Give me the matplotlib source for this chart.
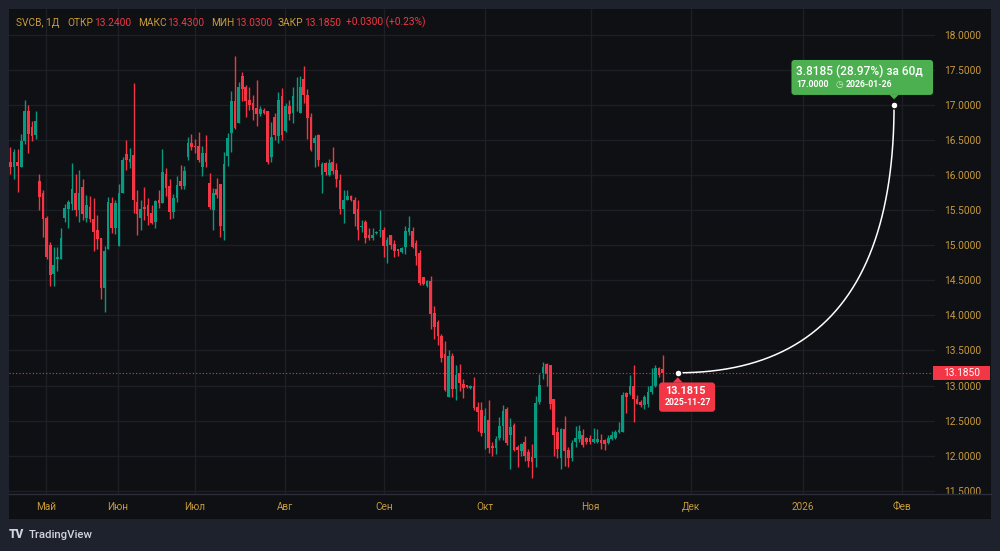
import numpy as np
import matplotlib
matplotlib.use("Agg")
import matplotlib.pyplot as plt
import matplotlib.transforms as mtransforms
from matplotlib.patches import FancyBboxPatch, Rectangle, Polygon
from matplotlib.lines import Line2D

# ---------------- data ----------------
opens = [16.18, 16.12, 16.19, 16.12, 16.49, 16.91, 16.68, 16.57, 15.92, 15.74,
         15.39, 15.00, 14.59, 14.81, 14.81, 15.39, 15.52, 15.59, 15.74, 15.50,
         15.83, 15.39, 15.55, 15.37, 15.21, 15.10, 14.39, 14.94, 15.60, 15.24,
         14.99, 15.75, 16.30, 16.18, 16.29, 15.61, 15.39, 15.55, 15.57, 15.46,
         15.33, 15.64, 15.60, 16.01, 15.84, 15.48, 15.67, 15.91, 15.85, 16.26,
         16.45, 16.41, 16.41, 16.12, 16.31, 15.89, 15.50, 15.80, 15.87, 15.20,
         16.27, 16.60, 17.06, 16.74, 17.41, 17.26, 17.07, 17.02, 16.95, 16.87,
         16.93, 16.91, 16.26, 16.82, 16.56, 17.13, 16.63, 16.99, 16.88, 17.12,
         16.89, 17.37, 17.14, 16.83, 16.46, 16.57, 16.00, 16.17, 16.00, 16.19,
         16.07, 15.93, 15.51, 15.65, 15.70, 15.65, 15.51, 15.26, 15.33, 15.14,
         15.10, 15.17, 15.20, 15.22, 14.99, 15.14, 15.01, 14.94, 14.90, 14.97,
         15.19, 15.20, 15.03, 14.89, 14.54, 14.42, 14.49, 14.03, 13.91, 13.71,
         13.45, 12.83, 13.42, 12.95, 13.18, 13.02, 13.01, 12.96, 13.00, 12.70,
         12.65, 12.32, 12.51, 12.14, 12.11, 12.25, 12.42, 12.67, 12.29, 12.44,
         12.12, 12.06, 12.19, 12.05, 11.98, 11.96, 12.76, 13.18, 13.30, 13.29,
         12.81, 12.34, 11.96, 12.38, 12.08, 11.96, 12.19, 12.24, 12.29, 12.25,
         12.25, 12.19, 12.20, 12.22, 12.23, 12.18, 12.24, 12.25, 12.34, 12.34,
         12.89, 12.88, 13.00, 12.81, 12.76, 12.72, 12.73, 12.91, 12.99, 13.25,
         13.24]
highs = [16.40, 16.37, 16.37, 16.59, 17.07, 17.00, 16.77, 16.91, 16.01, 15.78,
         15.42, 15.05, 14.98, 14.97, 15.25, 15.59, 15.64, 16.17, 16.02, 16.07,
         15.94, 15.71, 15.70, 15.67, 15.43, 15.10, 14.99, 15.69, 15.68, 15.65,
         15.87, 16.26, 16.50, 16.39, 17.31, 15.78, 15.64, 15.83, 15.67, 15.57,
         15.65, 15.79, 16.37, 16.10, 15.95, 15.73, 15.99, 16.14, 16.13, 16.54,
         16.59, 16.52, 16.61, 16.41, 16.57, 16.03, 15.81, 15.96, 15.87, 16.33,
         16.60, 17.20, 17.69, 17.32, 17.47, 17.29, 17.26, 17.14, 17.36, 16.98,
         16.95, 16.91, 16.76, 16.88, 17.18, 17.24, 17.02, 17.07, 17.26, 17.39,
         17.41, 17.56, 17.22, 16.88, 16.57, 16.59, 16.19, 16.19, 16.23, 16.40,
         16.17, 16.01, 15.78, 15.79, 15.71, 15.68, 15.65, 15.36, 15.36, 15.25,
         15.25, 15.20, 15.50, 15.26, 15.12, 15.14, 15.07, 14.94, 14.98, 15.27,
         15.41, 15.26, 15.07, 14.93, 14.55, 14.50, 14.56, 14.13, 13.94, 13.74,
         13.63, 13.51, 13.47, 13.29, 13.31, 13.09, 13.01, 13.01, 13.12, 12.76,
         12.76, 12.68, 12.79, 12.20, 12.28, 12.55, 12.72, 12.69, 12.53, 12.46,
         12.15, 12.18, 12.28, 12.10, 12.16, 12.85, 13.17, 13.33, 13.32, 13.29,
         12.81, 12.41, 12.39, 12.56, 12.12, 12.22, 12.42, 12.44, 12.38, 12.27,
         12.29, 12.39, 12.38, 12.31, 12.24, 12.29, 12.35, 12.36, 12.48, 12.91,
         12.91, 13.15, 13.29, 12.86, 12.80, 12.86, 13.00, 13.25, 13.29, 13.26,
         13.43]
lows = [16.01, 15.95, 15.76, 16.12, 16.44, 16.31, 16.49, 16.52, 15.50, 15.12,
        14.80, 14.42, 14.42, 14.63, 14.81, 15.33, 15.24, 15.50, 15.41, 15.33,
        15.36, 15.33, 15.33, 14.92, 14.95, 14.23, 14.05, 14.94, 15.17, 15.16,
        14.99, 15.75, 16.07, 16.10, 15.46, 15.14, 15.22, 15.36, 15.29, 15.30,
        15.25, 15.53, 15.60, 15.70, 15.38, 15.39, 15.62, 15.80, 15.80, 16.21,
        16.36, 16.31, 16.18, 15.98, 16.11, 15.52, 15.21, 15.67, 15.12, 15.07,
        16.13, 16.33, 16.65, 16.74, 17.06, 16.83, 16.92, 16.79, 16.70, 16.84,
        16.87, 16.16, 16.19, 16.50, 16.46, 16.50, 16.61, 16.79, 16.74, 16.91,
        16.89, 17.02, 16.52, 16.34, 16.11, 16.13, 15.75, 16.00, 15.99, 16.02,
        15.83, 15.45, 15.32, 15.64, 15.63, 15.28, 15.07, 15.19, 15.03, 15.08,
        15.08, 15.16, 15.12, 14.83, 14.75, 14.94, 14.83, 14.84, 14.89, 14.88,
        15.14, 14.96, 14.72, 14.43, 14.43, 14.41, 13.80, 13.67, 13.58, 13.34,
        12.92, 12.83, 12.83, 12.80, 12.92, 12.82, 12.96, 12.95, 12.65, 12.35,
        12.28, 12.09, 12.04, 12.00, 12.03, 12.22, 12.22, 12.15, 11.81, 12.06,
        11.84, 12.00, 11.93, 11.84, 11.68, 11.84, 12.74, 13.09, 13.00, 12.67,
        11.99, 11.96, 11.81, 11.86, 11.84, 11.93, 12.12, 12.19, 12.12, 12.17,
        12.17, 12.18, 12.18, 12.10, 12.08, 12.16, 12.22, 12.24, 12.33, 12.34,
        12.61, 12.86, 12.48, 12.73, 12.69, 12.67, 12.69, 12.88, 12.98, 13.12,
        13.03]
closes = [16.12, 16.33, 16.13, 16.49, 16.91, 16.58, 16.56, 16.77, 15.68, 15.38,
          14.83, 14.58, 14.72, 14.83, 15.10, 15.53, 15.61, 15.80, 15.50, 15.75,
          15.44, 15.57, 15.37, 15.19, 15.09, 14.39, 14.92, 15.61, 15.25, 15.60,
          15.75, 16.21, 16.21, 16.23, 15.65, 15.45, 15.52, 15.51, 15.41, 15.32,
          15.63, 15.60, 16.05, 15.81, 15.48, 15.67, 15.86, 15.85, 16.06, 16.46,
          16.40, 16.40, 16.21, 16.31, 16.19, 15.54, 15.74, 15.72, 15.28, 16.16,
          16.53, 17.06, 16.67, 17.26, 17.22, 17.05, 17.00, 16.93, 16.87, 16.94,
          16.89, 16.18, 16.54, 16.57, 17.07, 16.57, 16.99, 16.87, 17.12, 17.13,
          17.26, 17.14, 16.81, 16.36, 16.53, 16.21, 16.16, 16.05, 16.17, 16.06,
          15.94, 15.51, 15.65, 15.70, 15.65, 15.45, 15.22, 15.28, 15.10, 15.10,
          15.15, 15.19, 15.22, 14.99, 15.07, 15.00, 14.91, 14.91, 14.96, 15.20,
          15.24, 14.98, 14.84, 14.46, 14.45, 14.49, 14.02, 13.84, 13.70, 13.39,
          12.93, 13.42, 12.95, 13.15, 13.03, 12.96, 12.98, 13.00, 12.68, 12.62,
          12.32, 12.56, 12.11, 12.11, 12.24, 12.42, 12.63, 12.18, 12.41, 12.08,
          12.08, 12.16, 11.99, 11.93, 11.91, 12.75, 13.01, 13.26, 13.17, 12.74,
          12.29, 12.10, 12.38, 12.06, 11.96, 12.18, 12.25, 12.35, 12.15, 12.19,
          12.19, 12.24, 12.24, 12.18, 12.16, 12.25, 12.29, 12.34, 12.37, 12.86,
          12.84, 13.00, 12.81, 12.74, 12.72, 12.84, 12.91, 12.99, 13.25, 13.15,
          13.185]

month_labels = ["Май", "Июн", "Июл", "Авг", "Сен", "Окт", "Ноя", "Дек", "2026", "Фев"]
month_pos = [9.85, 29.7, 51.0, 75.9, 103.1, 131.1, 160.2, 187.8, 218.8, 246.2]
price_ticks = [11.5, 12.0, 12.5, 13.0, 13.5, 14.0, 14.5, 15.0, 15.5, 16.0, 16.5, 17.0, 17.5, 18.0]

symbol = "SVCB, 1Д"
hdr_open, hdr_high, hdr_low, hdr_close = 13.24, 13.43, 13.03, 13.185
hdr_change, hdr_change_pct = 0.03, 0.23
last_price = 13.185

fc_start_x, fc_start_y, fc_start_date = 184.2, 13.1815, "2025-11-27"
fc_end_x, fc_end_y, fc_end_date = 243.9, 17.0, "2026-01-26"
fc_change, fc_change_pct, fc_days = 3.8185, 28.97, 60

# ---------------- style ----------------
W, H = 1000, 551
OUTER = "#1e222d"
PANEL = "#0f1013"
GRID = "#1c1f26"
GOLD = "#c89b3c"
UP = "#089981"
DOWN = "#f23645"
GREENBOX = "#4caf50"
FONT = ["Roboto", "DejaVu Sans"]
plt.rcParams["font.family"] = FONT

fig = plt.figure(figsize=(W / 100, H / 100), dpi=100, facecolor=OUTER)
fig.patches.append(Rectangle((9 / W, 1 - 519 / H), (991 - 9) / W, (519 - 9) / H,
                             transform=fig.transFigure, fc=PANEL, ec="none", zorder=-5))

ax = fig.add_axes([9 / W, 1 - 494 / H, (935 - 9) / W, (494 - 9) / H])
ax.set_zorder(1)
ax.set_facecolor(PANEL)
ax.set_xlim(-0.36, 255.2)
ax.set_ylim(11.454, 18.366)
for s in ax.spines.values():
    s.set_visible(False)

ax.yaxis.tick_right()
ax.set_yticks(price_ticks)
ax.set_yticklabels([f"{v:.4f}" for v in price_ticks])
ax.tick_params(axis="y", length=0, pad=6.8, labelcolor=GOLD, labelsize=7.3)
ax.set_xticks(month_pos)
ax.set_xticklabels(month_labels)
ax.tick_params(axis="x", length=0, pad=5.6, labelcolor=GOLD, labelsize=7.2)
ax.grid(True, color=GRID, lw=1)
ax.set_axisbelow(True)

fig.add_artist(Line2D([9 / W, 991 / W], [1 - 494 / H] * 2, color="#2a2e39", lw=1, zorder=2))

# ---------------- candles ----------------
O = np.array(opens); Hh = np.array(highs); L = np.array(lows); C = np.array(closes)
idx = np.arange(len(O))
cols = np.where(C >= O, UP, DOWN)
ax.vlines(idx, L, Hh, colors=cols, lw=1, zorder=2)
ax.bar(idx, np.maximum(np.abs(C - O), 0.012), bottom=np.minimum(O, C), width=0.74,
       color=cols, lw=0, zorder=3)

# last price line + label
ax.axhline(last_price, color=DOWN, lw=0.8, ls=(0, (1, 2)), zorder=1)
btr = mtransforms.blended_transform_factory(ax.transAxes, ax.transData)
ax.add_artist(Rectangle((0.9978, last_price - 0.1), 0.0616, 0.2, transform=btr,
                        fc=DOWN, ec="none", clip_on=False, zorder=5))
ax.text(1.0286, last_price, f"{last_price:.4f}", transform=btr, ha="center", va="center",
        color="white", fontsize=7.3, clip_on=False, zorder=6)

# ---------------- forecast ----------------
t = np.linspace(0, 1, 200)
bx = (1 - t) ** 2 * fc_start_x + 2 * t * (1 - t) * fc_end_x + t ** 2 * fc_end_x
by = (1 - t) ** 2 * fc_start_y + 2 * t * (1 - t) * fc_start_y + t ** 2 * fc_end_y
ax.plot(bx, by, color="white", lw=1.1, zorder=6)
ax.plot([fc_start_x], [fc_start_y], "o", ms=5, mfc="white", mec=PANEL, mew=1, zorder=8)
ax.plot([fc_end_x], [fc_end_y], "o", ms=5, mfc="white", mec=PANEL, mew=1, zorder=8)


def px_tr(x, y):
    X, Y = ax.transData.transform((x, y))
    return mtransforms.Affine2D().translate(X, Y)


# start label (red)
trs = px_tr(fc_start_x, fc_start_y)
fig.add_artist(FancyBboxPatch((-18.7, -39), 56, 29.3, boxstyle="round,pad=0,rounding_size=3",
                              transform=trs, fc=DOWN, ec="none", zorder=5))
fig.add_artist(Polygon([(-5, -9.8), (5, -9.8), (0, -4.5)], closed=True, transform=trs,
                       fc=DOWN, ec="none", zorder=5))
fig.text(-12.7, -18.7, f"{fc_start_y:.4f}", transform=trs, ha="left", va="center",
         color="white", fontsize=7.8, fontweight="bold", zorder=6)
fig.text(-12.7, -30.0, fc_start_date, transform=trs, ha="left", va="center",
         color="white", fontsize=6.2, fontweight="bold", zorder=6)

# end label (green)
tre = px_tr(fc_end_x, fc_end_y)
fig.add_artist(FancyBboxPatch((-102.6, 9.9), 141.6, 35, boxstyle="round,pad=0,rounding_size=3",
                              transform=tre, fc=GREENBOX, ec="none", zorder=5))
fig.add_artist(Polygon([(-4.5, 10), (4.5, 10), (0, 5.5)], closed=True, transform=tre,
                       fc=GREENBOX, ec="none", zorder=5))
fig.text(-97.6, 33.2, f"{fc_change:.4f} ({fc_change_pct:.2f}%) за {fc_days}д", transform=tre,
         ha="left", va="center", color="white", fontsize=8.6, fontweight="medium", zorder=6)
fig.text(-97.6, 19.9, f"{fc_end_y:.4f}", transform=tre, ha="left", va="center",
         color="white", fontsize=6.3, fontweight="bold", zorder=6)
fig.text(-58.5, 19.9, "◷", transform=tre, ha="left", va="center", family=["DejaVu Sans"],
         color="#d8f0d8", fontsize=6.3, zorder=6)
fig.text(-48.3, 19.9, fc_end_date, transform=tre, ha="left", va="center",
         color="white", fontsize=6.3, fontweight="bold", zorder=6)

# ---------------- header ----------------
hy = 1 - 22.5 / H
renderer = fig.canvas.get_renderer()
groups = [
    (16, [(symbol, GOLD)]),
    (67.7, [("ОТКР", GOLD), (f"{hdr_open:.4f}", DOWN)]),
    (138.3, [("МАКС", GOLD), (f"{hdr_high:.4f}", DOWN)]),
    (211, [("МИН", GOLD), (f"{hdr_low:.4f}", DOWN)]),
    (277.7, [("ЗАКР", GOLD), (f"{hdr_close:.4f}", DOWN)]),
    (346, [(f"+{hdr_change:.4f} (+{hdr_change_pct:.2f}%)", DOWN)]),
]
for x0, parts in groups:
    x = x0
    for s, c in parts:
        tx = fig.text(x / W, hy, s, color=c, fontsize=7.3, ha="left", va="center", zorder=6)
        x += tx.get_window_extent(renderer).width + 0.5

# ---------------- footer logo ----------------
fig.text(9 / W, 1 - 535 / H, "TV", color="#d1d4dc", fontsize=8.5, fontweight="black",
         ha="left", va="center")
fig.text(29 / W, 1 - 535 / H, "TradingView", color="#d1d4dc", fontsize=8.2,
         fontweight="medium", ha="left", va="center")

fig.savefig("out.png", dpi=100, facecolor=OUTER)
